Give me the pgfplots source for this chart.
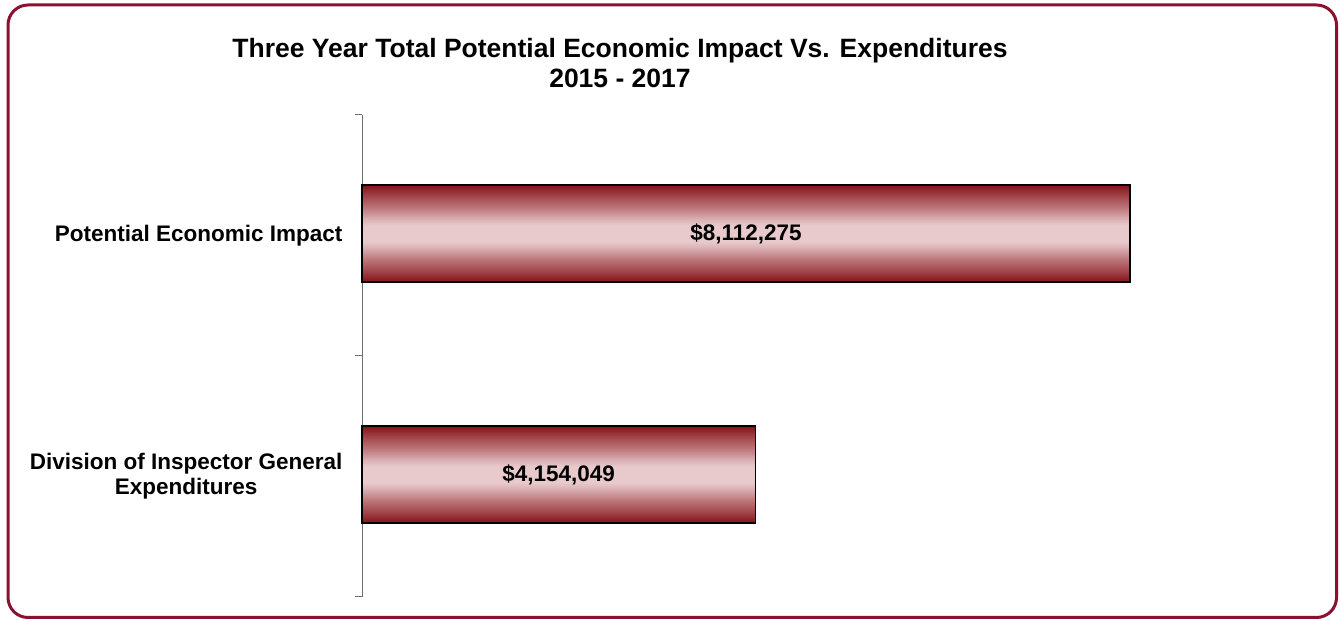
\documentclass[border=0pt]{standalone}
\usepackage{pgfplots}
\pgfplotsset{compat=1.18}
\usepackage{fontspec}
\setmainfont{Liberation Sans}

\definecolor{frame}{RGB}{140,16,48}
\definecolor{bardark}{RGB}{136,22,28}
\definecolor{barlight}{RGB}{232,202,205}
\definecolor{axisgray}{RGB}{110,110,110}

% dark edges, gradual fade to a light band in the middle
\pgfdeclareverticalshading{barshade}{100bp}{%
	color(0bp)=(bardark); color(25.5bp)=(bardark);
	color(31bp)=(bardark!72!barlight); color(37bp)=(bardark!45!barlight);
	color(43bp)=(bardark!12!barlight); color(46bp)=(barlight);
	color(54bp)=(barlight); color(57bp)=(bardark!12!barlight);
	color(63bp)=(bardark!45!barlight); color(69bp)=(bardark!72!barlight);
	color(74.5bp)=(bardark); color(100bp)=(bardark)}

\begin{document}
\begin{tikzpicture}[x=1pt,y=1pt]
	% page and rounded frame
	\path[use as bounding box] (0,0) rectangle (1340,620);
	\draw[frame, line width=3pt, rounded corners=20pt] (8,2.5) rectangle (1336.5,615);

	\node[align=center, font=\fontsize{26.5}{30}\selectfont\bfseries] at (620,557)
		{Three Year Total Potential Economic Impact Vs. Expenditures\\2015 - 2017};

	\begin{axis}[
			at={(362pt,23pt)}, anchor=south west,
			width=946.7pt, height=482pt,
			scale only axis,
			xmin=0, xmax=10000000,
			ymin=-0.5, ymax=1.5,
			axis x line=none,
			axis y line=left,
			axis line style={-, axisgray, line width=1pt},
			ytick={0,1},
			yticklabels={{Division of Inspector General\\Expenditures},{Potential Economic Impact}},
			minor ytick={-0.5,0.5,1.5},
			major tick length=0pt,
			minor tick length=7pt,
			tick align=outside,
			minor tick style={axisgray, line width=1pt},
			yticklabel style={align=center, font=\fontsize{22.5}{25}\selectfont\bfseries, xshift=-16pt},
			clip=false,
		]

		\addplot[xbar, bar shift=2pt, bar width=97pt, draw=black, line width=1.5pt,
			shading=barshade]
			coordinates {(8112275,1)};

		\addplot[xbar, bar shift=2pt, bar width=97pt, draw=black, line width=1.5pt,
			shading=barshade]
			coordinates {(4154049,0)};

		% value labels in the middle of each bar
		\addplot[only marks, mark=none, nodes near coords, point meta=explicit symbolic,
			every node near coord/.append style={anchor=center, yshift=2pt, font=\fontsize{22.5}{25}\selectfont\bfseries}]
			coordinates {
				(4056137.5,1) [{\$8,112,275}]
				(2077024.5,0) [{\$4,154,049}]
			};

	\end{axis}
\end{tikzpicture}
\end{document}
